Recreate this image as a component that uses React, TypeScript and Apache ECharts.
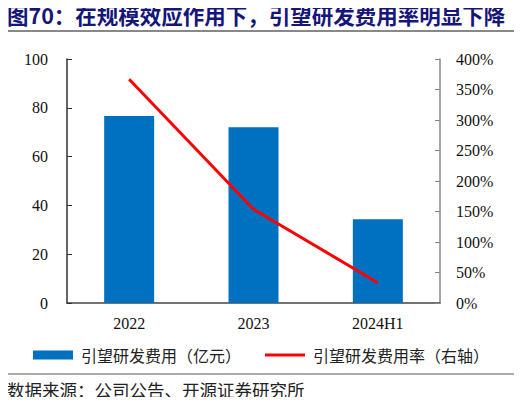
import { useEffect, useRef } from "react";
import * as echarts from "echarts";

const categories = ["2022", "2023", "2024H1"];
const rdExpense = [76.6, 72.0, 34.3];
const rdRatio = [366.7, 153.6, 33.3];
const leftTicks = { min: 0, max: 100, interval: 20 };
const rightTicks = { min: 0, max: 400, interval: 50 };

const TITLE = "图70：在规模效应作用下，引望研发费用率明显下降";
const SOURCE = "数据来源：公司公告、开源证券研究所";
const BAR_NAME = "引望研发费用（亿元）";
const LINE_NAME = "引望研发费用率（右轴）";

const SERIF = "'Liberation Serif', 'Times New Roman', serif";
const CJK = "'Noto Sans CJK SC', sans-serif";

export default function App() {
  const el = useRef<HTMLDivElement>(null);

  useEffect(() => {
    if (!el.current) return;
    const chart = echarts.init(el.current, undefined, { renderer: "svg" });
    chart.setOption({
      animation: false,
      backgroundColor: "#fff",
      grid: { left: 67, right: 82, top: 59, bottom: 102 },
      legend: {
        left: 28,
        top: 342,
        itemGap: 24,
        itemWidth: 40,
        itemHeight: 9,
        textStyle: { fontFamily: CJK, fontSize: 16, color: "#222", padding: [0, 0, 0, 3] },
        data: [
          { name: BAR_NAME, icon: "rect" },
          { name: LINE_NAME, icon: "path://M0,0 L40,0 L40,3 L0,3 Z" },
        ],
      },
      xAxis: {
        type: "category",
        data: categories,
        axisLine: { lineStyle: { color: "#444", width: 1.5 } },
        axisTick: { inside: true, length: 5, lineStyle: { color: "#444" } },
        axisLabel: { fontFamily: SERIF, fontSize: 16, color: "#111", margin: 12 },
      },
      yAxis: [
        {
          type: "value",
          ...leftTicks,
          axisLine: { show: true, lineStyle: { color: "#333", width: 1.5 } },
          axisTick: { show: true, inside: true, length: 5, lineStyle: { color: "#333" } },
          axisLabel: { fontFamily: SERIF, fontSize: 16, color: "#111", margin: 19 },
          splitLine: { show: false },
        },
        {
          type: "value",
          position: "right",
          ...rightTicks,
          axisLine: { show: true, lineStyle: { color: "#888", width: 1.5 } },
          axisTick: { show: true, inside: true, length: 5, lineStyle: { color: "#888" } },
          axisLabel: { fontFamily: SERIF, fontSize: 16, color: "#111", margin: 16, formatter: "{value}%" },
          splitLine: { show: false },
        },
      ],
      series: [
        {
          name: BAR_NAME,
          type: "bar",
          data: rdExpense,
          barWidth: 50,
          itemStyle: { color: "#0070C0" },
        },
        {
          name: LINE_NAME,
          type: "line",
          yAxisIndex: 1,
          data: rdRatio,
          symbol: "none",
          lineStyle: { color: "#FF0000", width: 3 },
          itemStyle: { color: "#FF0000" },
        },
      ],
      graphic: [
        {
          type: "text",
          left: 7,
          top: 4,
          style: { text: TITLE, fontFamily: CJK, fontSize: 21.5, fontWeight: "bold", fill: "#15157a" },
        },
        {
          type: "line",
          shape: { x1: 6, y1: 31, x2: 516, y2: 31 },
          style: { stroke: "#888", lineWidth: 2 },
        },
        {
          type: "line",
          shape: { x1: 6, y1: 374, x2: 516, y2: 374 },
          style: { stroke: "#555", lineWidth: 1 },
        },
        {
          type: "text",
          left: 7,
          top: 381,
          style: { text: SOURCE, fontFamily: CJK, fontSize: 17.5, fill: "#222" },
        },
      ],
    });
    return () => chart.dispose();
  }, []);

  return <div ref={el} style={{ width: 522, height: 405, margin: -8 }} />;
}
